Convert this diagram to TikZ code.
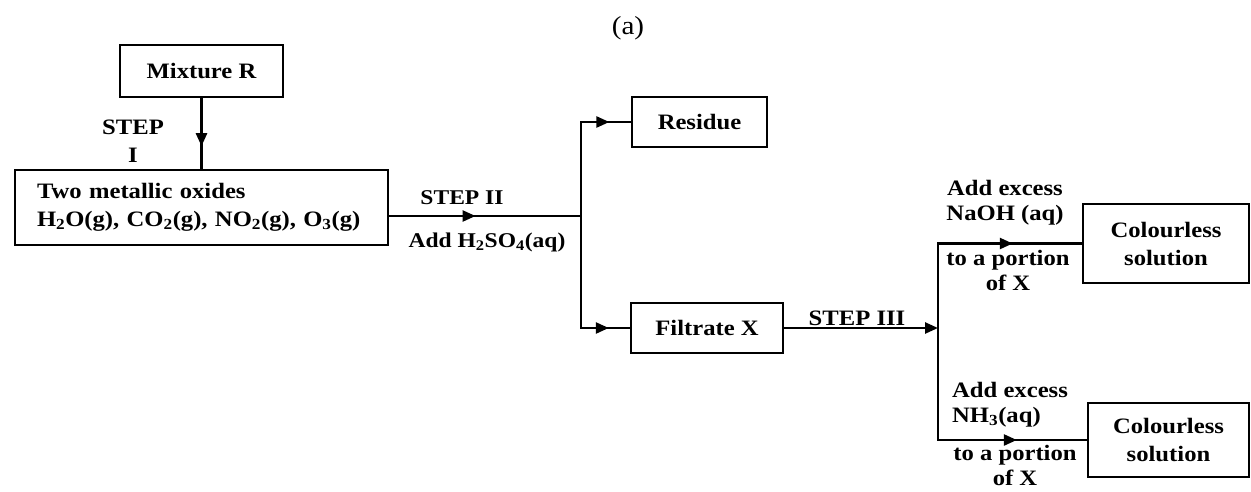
\documentclass[tikz,border=0pt]{standalone}
\usepackage{fontspec}
\setmainfont{Liberation Serif}[FakeStretch=1.12]
\usetikzlibrary{arrows.meta,decorations.markings}
\begin{document}
\begin{tikzpicture}[x=1pt,y=-1pt,
  every node/.style={font=\fontsize{22}{28}\selectfont\bfseries},
  box/.style={draw, line width=2.5pt, inner sep=0pt, align=center},
  lbl/.style={inner sep=0pt, align=center},
  lblfont/.style={font=\fontsize{22}{25}\selectfont\bfseries},
  conn/.style={line width=2.5pt},
  tip/.style={-{Triangle[length=13pt,width=11pt]}},
  midarr/.style={postaction={decorate},decoration={markings,mark=at position #1 with {\arrow{Triangle[length=13pt,width=11pt]}}}},
]
\useasboundingbox (0,0) rectangle (1251,491);
\fill[white] (0,0) rectangle (1251,491);

\node[font=\fontsize{26}{30}\selectfont] (title) at (628,28) {(a)};

% boxes
\node[box, minimum width=163pt, minimum height=52pt] (mix) at (201.5,71) {Mixture R};
\node[box, minimum width=373pt, minimum height=75pt, text width=329pt, inner xsep=22pt, align=left] (big) at (201.5,207.5)
  {Two metallic oxides\\H\textsubscript{2}O(g), CO\textsubscript{2}(g), NO\textsubscript{2}(g), O\textsubscript{3}(g)};
\node[box, minimum width=135pt, minimum height=50pt] (res) at (699.5,122) {Residue};
\node[box, minimum width=152pt, minimum height=50pt] (filt) at (707,328) {Filtrate X};
\node[box, minimum width=166pt, minimum height=79pt] (c1) at (1166,243.5) {Colourless\\solution};
\node[box, minimum width=161pt, minimum height=74pt] (c2) at (1168.5,440) {Colourless\\solution};

% junctions
\coordinate (j1) at (581,216);
\coordinate (j2) at (938,328);

% connectors
\draw[conn, midarr=0.68] (mix.south) -- (big.north -| mix.south);
\draw[conn, midarr=0.45] (big.east |- j1) -- (j1);
\draw[conn, line cap=rect] (j1 |- res.west) -- (j1 |- filt.west);
\draw[conn, midarr=0.57] (j1 |- res.west) -- (res.west);
\draw[conn, midarr=0.57] (j1 |- filt.west) -- (filt.west);
\draw[conn, tip] (filt.east) -- (j2);
\draw[conn, line cap=rect] (j2 |- c1.west) -- (j2 |- c2.west);
\draw[conn, midarr=0.52] (j2 |- c1.west) -- (c1.west);
\draw[conn, midarr=0.53] (j2 |- c2.west) -- (c2.west);

% labels
\node[lbl] (s1) at (133,141) {STEP\\I};
\node[lbl, font=\fontsize{21}{25}\selectfont\bfseries] (s2) at (462,198) {STEP II};
\node[lbl, font=\fontsize{21}{25}\selectfont\bfseries] (a2) at (487,242) {Add H\textsubscript{2}SO\textsubscript{4}(aq)};
\node[lbl] (s3) at (857,318) {STEP III};
\node[lbl, lblfont] (n1) at (1005,202.5) {Add excess\\NaOH (aq)};
\node[lbl, lblfont] (n2) at (1008,270.5) {to a portion\\of X};
\node[lbl, lblfont, align=left, anchor=west] (n3) at (952,404.5) {Add excess\\NH\textsubscript{3}(aq)};
\node[lbl, lblfont] (n4) at (1015,465) {to a portion\\of X};
\end{tikzpicture}
\end{document}
